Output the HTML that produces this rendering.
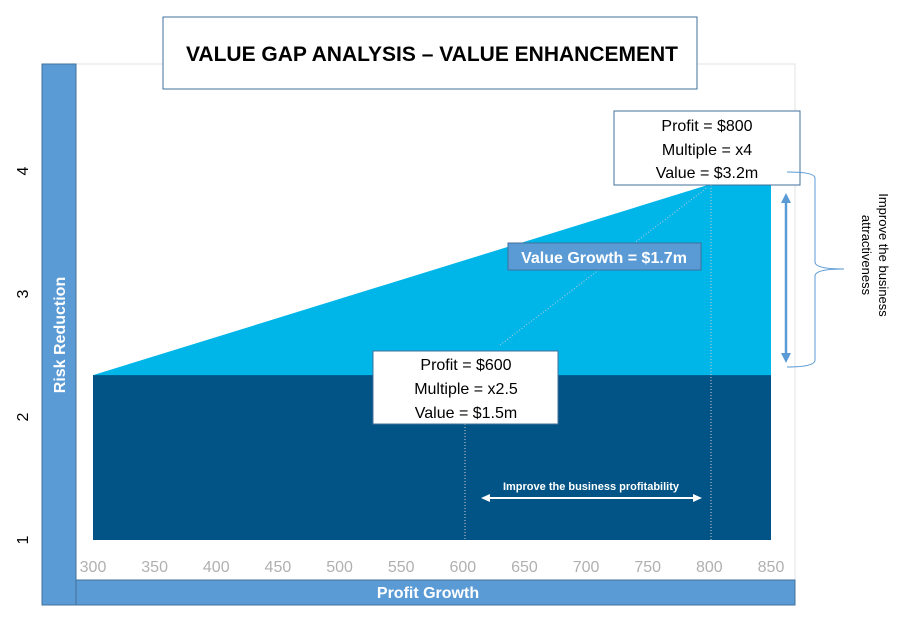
<!DOCTYPE html>
<html><head><meta charset="utf-8"><style>
html,body{margin:0;padding:0;background:#fff;}
svg{display:block;font-family:"Liberation Sans",sans-serif;}
</style></head><body>
<svg id="chart" width="905" height="625" viewBox="0 0 905 625">
<rect x="76" y="64" width="719" height="516" fill="none" stroke="#e3e3e3"/>
<g id="marks"></g>
<rect x="42" y="64" width="34" height="541" fill="#5b9bd5" stroke="#41719c"/>
<text transform="translate(65,335) rotate(-90)" text-anchor="middle" fill="#fff" font-size="16" font-weight="bold">Risk Reduction</text>
<rect x="76" y="580" width="719" height="25" fill="#5b9bd5" stroke="#41719c"/>
<text x="428" y="598" text-anchor="middle" fill="#fff" font-size="16" font-weight="bold">Profit Growth</text>
<g id="xticks"></g><g id="yticks"></g>
<rect x="163" y="17" width="534" height="72" fill="#fff" stroke="#41719c"/>
<text x="432" y="61" text-anchor="middle" font-size="21" font-weight="bold" fill="#000">VALUE GAP ANALYSIS – VALUE ENHANCEMENT</text>
<line x1="500" y1="345" x2="708" y2="187" stroke="#bcd" stroke-dasharray="1,2"/>
<line x1="465" y1="424" x2="465" y2="540" stroke="#ccc" stroke-dasharray="1,2"/>
<line x1="711" y1="185" x2="711" y2="540" stroke="#ccc" stroke-dasharray="1,2"/>
<rect x="614" y="111" width="186" height="74" fill="#fff" stroke="#41719c"/>
<g font-size="16" text-anchor="middle" fill="#000">
<text x="707" y="131">Profit = $800</text><text x="707" y="155">Multiple = x4</text><text x="707" y="178">Value = $3.2m</text>
</g>
<rect x="373" y="351" width="185" height="73" fill="#fff" stroke="#41719c"/>
<g font-size="16" text-anchor="middle" fill="#000">
<text x="466" y="370">Profit = $600</text><text x="466" y="394">Multiple = x2.5</text><text x="466" y="418">Value = $1.5m</text>
</g>
<rect x="508" y="243" width="193" height="27" fill="#5b9bd5" stroke="#41719c"/>
<text x="604" y="263" text-anchor="middle" fill="#fff" font-size="16" font-weight="bold">Value Growth = $1.7m</text>
<text x="591" y="490" text-anchor="middle" fill="#fff" font-size="11" font-weight="bold">Improve the business profitability</text>
<line x1="486" y1="498" x2="697" y2="498" stroke="#fff" stroke-width="2"/>
<polygon points="481,498 490,494 490,502" fill="#fff"/><polygon points="702,498 693,494 693,502" fill="#fff"/>
<line x1="786" y1="200" x2="786" y2="356" stroke="#5b9bd5" stroke-width="2.5"/>
<polygon points="786,193 781,203 791,203" fill="#5b9bd5"/><polygon points="786,363 781,353 791,353" fill="#5b9bd5"/>
<path d="M787,172 Q815,172 815,178 L815,262 Q815,269 844,269 Q815,269 815,276 L815,360 Q815,367 787,367" fill="none" stroke="#5b9bd5" stroke-width="1"/>
<text transform="translate(879,255) rotate(90)" text-anchor="middle" font-size="13" fill="#000"><tspan x="0" y="0">Improve the business</tspan><tspan x="0" y="17">attractiveness</tspan></text>
</svg>
<script>
const xTicks=[300,350,400,450,500,550,600,650,700,750,800,850];
const yTicks=[1,2,3,4];
const baseX=[300,850];
const baseY=[2.34,2.34];
const growthX=[300,800,850];
const growthY=[2.34,3.89,3.89];
const NS="http://www.w3.org/2000/svg";
function xs(v){return 93+(v-300)*(771-93)/550;}
function ys(v){return 540-(v-1)*123;}
const m=document.getElementById('marks');
let p=growthX.map((x,i)=>xs(x)+','+ys(growthY[i])).join(' ')+' '+xs(850)+','+ys(1)+' '+xs(300)+','+ys(1);
const g=document.createElementNS(NS,'polygon');g.setAttribute('points',p);g.setAttribute('fill','#00b5e8');


m.appendChild(g);
const b=document.createElementNS(NS,'polygon');
b.setAttribute('points',xs(baseX[0])+','+ys(baseY[0])+' '+xs(baseX[1])+','+ys(baseY[1])+' '+xs(baseX[1])+','+ys(1)+' '+xs(baseX[0])+','+ys(1));
b.setAttribute('fill','#035486');


m.appendChild(b);
const xt=document.getElementById('xticks');
xTicks.forEach(v=>{const t=document.createElementNS(NS,'text');t.setAttribute('x',xs(v));t.setAttribute('y',572);t.setAttribute('text-anchor','middle');t.setAttribute('font-size','16');t.setAttribute('fill','#b0b0b0');t.textContent=v;


xt.appendChild(t);});
const yt=document.getElementById('yticks');
yTicks.forEach(v=>{const t=document.createElementNS(NS,'text');t.setAttribute('transform','translate(28,'+ys(v)+') rotate(-90)');t.setAttribute('text-anchor','middle');t.setAttribute('font-size','16');t.setAttribute('fill','#000');t.textContent=v;


yt.appendChild(t);});
</script>
</body></html>
